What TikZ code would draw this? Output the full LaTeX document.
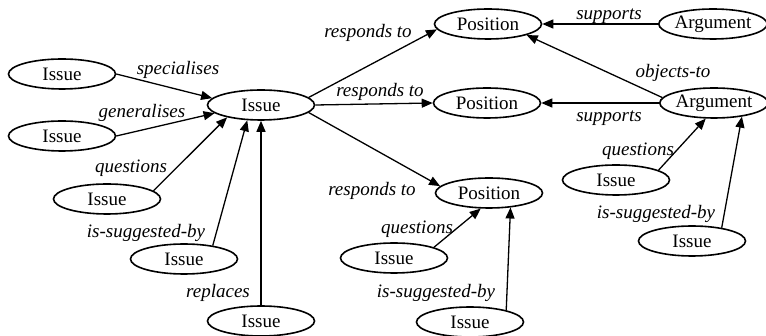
\documentclass[tikz,border=0pt]{standalone}
\usepackage{fontspec}
\setmainfont{Liberation Serif}
\usetikzlibrary{arrows.meta,shapes.geometric}

\begin{document}
\begin{tikzpicture}[x=1pt, y=-1pt,
        concept/.style={ellipse, draw=black, line width=1.6pt, minimum width=107pt, minimum height=30pt,
        inner sep=0pt, text=black, font=\fontsize{19}{21}\selectfont},
        relation/.style={inner sep=1pt, text=black, font=\fontsize{19}{21}\selectfont\itshape},
        link/.style={line width=1.3pt, -{Triangle[length=11pt,width=9pt]}}]
        \useasboundingbox (0,0) rectangle (766,336);

        % issues round the central issue
        \node [concept] (issSpec) at (62,74) {Issue};
        \node [concept] (issGen) at (62,136) {Issue};
        \node [concept] (iss) at (261,105) {Issue};
        \node [concept] (issQ) at (107,199) {Issue};
        \node [concept] (issSug) at (184,259) {Issue};
        \node [concept] (issRep) at (261,321) {Issue};

        % positions and arguments
        \node [concept] (posTop) at (488,24) {Position};
        \node [concept] (posMid) at (487,103) {Position};
        \node [concept] (posBot) at (489,193) {Position};
        \node [concept, minimum width=104pt] (argTop) at (713,24) {Argument};
        \node [concept, minimum width=104pt] (argMid) at (714,103) {Argument};
        \node [concept] (issPosQ) at (394,258) {Issue};
        \node [concept] (issPosSug) at (470,322) {Issue};
        \node [concept] (issArgQ) at (616,180) {Issue};
        \node [concept] (issArgSug) at (692,241) {Issue};

        % relation labels
        \node [relation] (labSpec) at (178,70) {specialises};
        \node [relation] (labGen) at (142,113) {generalises};
        \node [relation] (labQ) at (131,168) {questions};
        \node [relation] (labSug) at (146,233) {is-suggested-by};
        \node [relation] (labRep) at (218,293) {replaces};
        \node [relation] (labRespTop) at (368,33) {responds to};
        \node [relation] (labRespMid) at (380,92) {responds to};
        \node [relation] (labRespBot) at (372,191) {responds to};
        \node [relation] (labSupTop) at (609,16) {supports};
        \node [relation] (labObj) at (673,73) {objects-to};
        \node [relation] (labSupMid) at (609,118) {supports};
        \node [relation] (labArgQ) at (638,151) {questions};
        \node [relation] (labArgSug) at (656,214) {is-suggested-by};
        \node [relation] (labPosQ) at (417,229) {questions};
        \node [relation] (labPosSug) at (436,293) {is-suggested-by};

        \draw [link] (issSpec.east) -- (iss.172);
        \draw [link] (issGen.east) -- (iss.190);
        \draw [link] (issQ.10) -- (iss.200);
        \draw [link] (issSug.25) -- (iss.228);
        \draw [link] (issRep.north) -- (iss.south);

        \draw [link] (iss.9) -- (posTop.186);
        \draw [link] (iss.east) -- (posMid.west);
        \draw [link] (iss.351) -- (posBot.172);

        \draw [link] (argTop.west) -- (posTop.east);
        \draw [link] (argMid.174) -- (posTop.344);
        \draw [link] (argMid.west) -- (posMid.east);
        \draw [link] (issArgQ.13) -- (argMid.242);
        \draw [link] (issArgSug.24) -- (argMid.334);

        \draw [link] (issPosQ.15) -- (posBot.242);
        \draw [link] (issPosSug.18) -- (posBot.326);
    \end{tikzpicture}
\end{document}
